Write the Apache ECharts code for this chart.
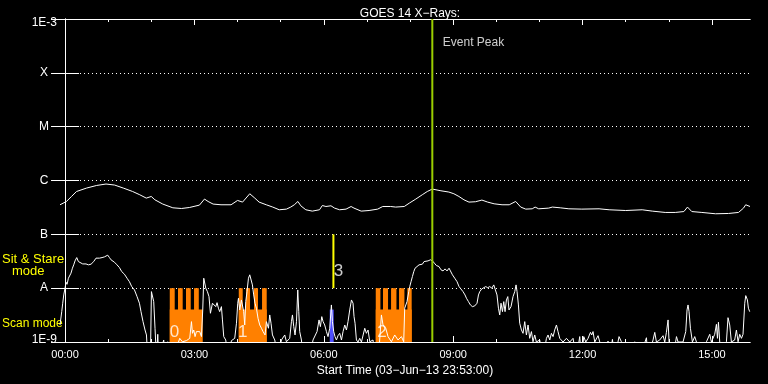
<!DOCTYPE html>
<html><head><meta charset="utf-8">
<script src="https://cdn.jsdelivr.net/npm/echarts@6/dist/echarts.min.js"></script>
<style>html,body{margin:0;padding:0;background:#000;}#c{width:768px;height:384px;}</style>
</head><body><div id="c"></div>
<script>
// time in minutes from 00:00 (axis starts 03-Jun-13 23:53:00)
const xStart = -7, xEnd = 953;
const yMin = 1e-9, yMax = 1e-3;
const majorTicks = [0, 180, 360, 540, 720, 900];
const hourTicks = [0,60,120,180,240,300,360,420,480,540,600,660,720,780,840,900];
const yLevelNames = {'-9':'1E-9','-8':'A','-7':'B','-6':'C','-5':'M','-4':'X','-3':'1E-3'};

// GOES 1-8 A (long channel)
const longChannel = [
[-7,3.54e-7],[2,4.08e-7],[9,5.05e-7],[16,6.25e-7],[18,6.53e-7],[30,7.24e-7],[44,8.09e-7],[57,8.6e-7],[69,8.23e-7],[81,7.24e-7],[94,6.25e-7],[104,5.43e-7],[113,4.71e-7],[120,5.05e-7],[125,4.38e-7],[136,3.65e-7],[150,3.11e-7],[162,3.02e-7],[173,3.15e-7],[187,3.49e-7],[194,4.52e-7],[199,4.08e-7],[206,3.65e-7],[217,3.54e-7],[231,3.54e-7],[240,4.26e-7],[247,3.97e-7],[257,5.67e-7],[264,4.71e-7],[270,3.97e-7],[280,3.54e-7],[289,3.21e-7],[298,2.86e-7],[308,2.94e-7],[314,3.21e-7],[319,3.54e-7],[324,4.08e-7],[328,3.39e-7],[335,2.86e-7],[344,2.70e-7],[354,2.86e-7],[358,3.43e-7],[363,3.29e-7],[370,3.39e-7],[375,3.07e-7],[382,2.86e-7],[391,2.94e-7],[398,3.29e-7],[402,3.07e-7],[412,2.70e-7],[423,2.77e-7],[435,2.94e-7],[442,3.29e-7],[453,3.29e-7],[460,3.21e-7],[472,3.29e-7],[479,3.80e-7],[488,4.52e-7],[497,5.43e-7],[504,6.25e-7],[511,6.93e-7],[523,6.44e-7],[534,6.10e-7],[541,5.67e-7],[548,5.05e-7],[555,4.38e-7],[562,3.97e-7],[571,4.03e-7],[580,4.33e-7],[588,3.97e-7],[597,3.69e-7],[608,3.54e-7],[618,3.54e-7],[627,4.08e-7],[634,3.21e-7],[641,2.94e-7],[650,2.98e-7],[654,3.21e-7],[659,2.98e-7],[673,3.07e-7],[678,3.21e-7],[689,3.11e-7],[701,2.98e-7],[719,2.94e-7],[743,2.98e-7],[757,2.86e-7],[780,2.77e-7],[803,2.86e-7],[817,2.70e-7],[835,2.55e-7],[849,2.55e-7],[861,2.65e-7],[866,3.21e-7],[872,2.65e-7],[886,2.55e-7],[905,2.41e-7],[923,2.44e-7],[937,2.55e-7],[944,3.07e-7],[947,3.54e-7],[953,3.29e-7]
];

// GOES 0.5-4 A (short channel)
const shortChannel = [
[-7,2.07e-9],[-4.6,3.66e-9],[-3.2,5.25e-9],[-1.8,7.48e-9],[0,1.0e-8],[1.4,1.29e-8],[2.8,1.18e-8],[4.7,1.53e-8],[6.5,1.64e-8],[8.3,1.90e-8],[10.3,2.35e-8],[12.1,2.71e-8],[13.9,3.21e-8],[16.3,3.70e-8],[18.6,3.12e-8],[20,2.91e-8],[24.6,2.82e-8],[29.2,2.82e-8],[32.6,2.71e-8],[36.2,2.79e-8],[39.9,3.12e-8],[43.1,3.61e-8],[47.9,3.61e-8],[51.5,3.70e-8],[54.8,3.81e-8],[59.4,4.10e-8],[61.8,3.70e-8],[64,3.36e-8],[68.7,3.04e-8],[72.3,2.71e-8],[75.7,2.41e-8],[78.9,2.03e-8],[82.6,1.82e-8],[86.3,1.53e-8],[89.6,1.32e-8],[92.8,1.07e-8],[96.6,9.27e-9],[100.2,6.97e-9],[103.5,5.25e-9],[105.7,3.66e-9],[108.5,2.39e-9],[111.3,1.67e-9],[113.3,1.35e-9],[115.1,5e-10],[118.8,5e-10],[120.2,8.63e-9],[121.6,9.27e-9],[123.4,5.62e-9],[125.2,1.80e-9],[127.2,5e-10],[129,1.39e-9],[130.4,5e-10],[137.3,1.09e-9],[139.1,5e-10],[142.9,1.01e-9],[150,5e-10],
[159.6,1.17e-9],[163.3,1.01e-9],[168.9,1.06e-9],[173.5,1.17e-9],[175.9,2.39e-9],[177.3,1.45e-9],[179.1,1.67e-9],[180.9,1.26e-9],[182.8,1.56e-9],[185,1.45e-9],[187.4,1.56e-9],[189.8,1.26e-9],[191.6,3.94e-9],[193,1.53e-8],[195.8,1.0e-8],[198.1,8.63e-9],[200.3,6.97e-9],[202.3,3.42e-9],[205.1,5.25e-9],[206.9,5.62e-9],[209.7,4.54e-9],[211.5,5.38e-9],[213.4,4.24e-9],[215.2,3.66e-9],[217.6,4.54e-9],[219,2.57e-9],[220.8,1.26e-9],[223.6,1.09e-9],[226.8,5e-10],[231.5,1.06e-9],[236.1,1.17e-9],[238.5,2.23e-9],[240.3,5.25e-9],[241.3,6.50e-9],[243.1,3.94e-9],[245.4,6.04e-9],[248.6,3.66e-9],[250,2.07e-9],[251.4,5.62e-9],[253.2,8.63e-9],[255.2,1.53e-8],[257,1.77e-8],[258.8,1.64e-8],[260.7,1.15e-8],[262.5,7.48e-9],[264.3,5.25e-9],[266.3,4.24e-9],[268.5,2.76e-9],[270.9,2.07e-9],[273.3,1.80e-9],[275.5,1.56e-9],[278.3,1.35e-9],[280.2,2.39e-9],[281.6,2.57e-9],[283,1.80e-9],[284.8,3.18e-9],[286.6,2.23e-9],[288.6,1.35e-9],[291.8,1.09e-9],[296.3,5e-10],[301.1,1.09e-9],[305.7,1.35e-9],[308,1.01e-9],[312.6,1.17e-9],[315,2.39e-9],[316.4,3.18e-9],[318.2,1.93e-9],[320,1.35e-9],[322,2.39e-9],[323.8,9.27e-9],[325.2,3.66e-9],[326.5,1.56e-9],[328.9,1.09e-9],[331.1,5e-10],[340.5,5e-10],[345,1.09e-9],
[350.6,1.56e-9],[353.4,2.57e-9],[355.3,1.93e-9],[357.2,2.96e-9],[359,2.39e-9],[361.3,2.07e-9],[363.7,1.56e-9],[365.9,1.26e-9],[368.3,1.80e-9],[370.6,4.88e-9],[372,2.39e-9],[373.8,1.56e-9],[375.6,1.26e-9],[377.6,1.09e-9],[379.8,1.31e-9],[382.2,1.45e-9],[384.6,1.09e-9],[386.8,1.56e-9],[389.2,2.07e-9],[391.5,1.67e-9],[393.7,2.39e-9],[396.1,3.94e-9],[398.5,6.04e-9],[400.7,5.25e-9],[402.1,2.96e-9],[403.5,2.23e-9],[405.4,1.09e-9],[407.7,1.0e-9],[410,1.17e-9],[412.4,1.0e-9],[417,1.80e-9],[419.3,1.45e-9],[421.6,1.67e-9],[424,1.01e-9],[428.5,1.09e-9],[430.9,5e-10],[436,5e-10],[440.2,3.18e-9],[442.4,2.07e-9],[446.2,1.80e-9],[449.4,1.26e-9],[454.1,1.01e-9],[458.7,1.35e-9],[463.3,1.09e-9],[468,1.26e-9],[471.2,1.01e-9],[472.6,4.24e-9],[475.8,5.62e-9],[478.2,8.63e-9],[479.6,1.07e-8],[481.4,1.32e-8],[483.3,1.64e-8],[485.2,2.03e-8],[487,2.35e-8],[489.7,2.52e-8],[492.5,2.71e-8],[494.5,2.91e-8],[497.2,2.79e-8],[499.5,3.12e-8],[501.8,3.04e-8],[505,3.21e-8],[508.4,3.36e-8],[511.2,3.21e-8],[513.9,2.91e-8],[516.7,2.63e-8],[520.3,2.52e-8],[523.1,2.19e-8],[525.9,2.09e-8],[528.7,2.28e-8],[531.5,2.09e-8],[534.3,2.35e-8],[536.2,2.09e-8],[539,1.77e-8],[542.2,1.53e-8],[545.4,1.32e-8],[548.2,1.07e-8],[550.9,1.02e-8],[553.7,8.63e-9],[556.5,7.48e-9],[558.5,6.50e-9],[561.3,5.62e-9],[564,4.88e-9],[566.8,4.54e-9],[570,4.68e-9],[573.2,5.25e-9],[575.2,7.48e-9],[577,8.63e-9],[579.8,9.68e-9],[582.5,9.98e-9],[585.3,1.07e-8],[588.1,1.02e-8],[590.9,1.07e-8],[593.7,1.0e-8],[596.5,1.15e-8],[599.2,1.07e-8],[601,7.48e-9],[603,4.24e-9],[604.8,3.18e-9],[606.6,5.25e-9],[608.6,3.66e-9],[610.4,5.62e-9],[612.2,3.66e-9],[614.1,6.04e-9],[616,6.97e-9],[617.7,3.94e-9],[620.5,4.54e-9],[623.3,6.97e-9],[625.7,8.63e-9],[627.5,1.15e-8],[628.9,8.63e-9],[630.8,4.88e-9],[632.6,2.23e-9],[635,1.67e-9],[637.2,1.45e-9],[639.6,2.39e-9],[641.9,1.35e-9],[644.2,2.07e-9],[646.5,1.17e-9],[648.9,1.56e-9],[651.1,1.01e-9],[653.5,1.35e-9],[655.8,1.0e-9],[660.4,1.09e-9],[665,5e-10],
[669.8,1.17e-9],[672,1.35e-9],[674.4,1.09e-9],[676.7,1.45e-9],[679,1.26e-9],[681.3,1.67e-9],[683.7,2.07e-9],[685.9,1.56e-9],[688.3,1.17e-9],[692.9,1.0e-9],[697.6,1.17e-9],[702.2,1.0e-9],[706.8,1.17e-9],[711.5,5e-10],[716.1,1.26e-9],[718.5,5e-10],[721.7,1.26e-9],[724.5,1.0e-9],[727.7,1.17e-9],[731,1.51e-9],[732.8,1.35e-9],[734.6,1.56e-9],[737,1.0e-9],[741.6,1.31e-9],[744,1.0e-9],[748.5,5e-10],[755.5,1.04e-9],[757.9,5e-10],[761.6,1.12e-9],[764.8,5e-10],[770.8,1.26e-9],[774.1,1.01e-9],[776.3,1.09e-9],[781.1,5e-10],[792.6,1.01e-9],[799.6,5e-10],[808.9,1.20e-9],[811.1,5e-10],[818.1,1.09e-9],[820.5,1.51e-9],[822.8,1.0e-9],[827.4,1.09e-9],[832,1.31e-9],[834.4,1.0e-9],[836.7,1.51e-9],[839,2.57e-9],[840.4,1.0e-9],[845.9,5e-10],[850.7,1.26e-9],[852.9,1.0e-9],[859.8,1.0e-9],[863.6,1.56e-9],[865.4,3.94e-9],[866.8,4.88e-9],[868.2,3.66e-9],[870.1,1.80e-9],[872.9,1.0e-9],[876.1,1.26e-9],[878.5,1.0e-9],[885.4,5e-10],[892.4,1.01e-9],[897,1.39e-9],[899.3,1.0e-9],[903.9,1.39e-9],[906.3,2.13e-9],[907.7,1.17e-9],[909.1,2.33e-9],[910.9,1.0e-9],[915.5,5e-10],[920.2,1.01e-9],[922.4,2.83e-9],[924.8,2.07e-9],[927.1,1.0e-9],[931.7,1.09e-9],[934.1,1.67e-9],[936.4,1.01e-9],[938.7,1.39e-9],[941.1,1.17e-9],[943.3,1.39e-9],[945.7,5.25e-9],[947.1,7.27e-9],[948,7.72e-9],[949.4,6.04e-9],[950.8,4.24e-9],[952.6,3.66e-9]
];

// scan-mode periods: [start, end, top flux]
const scanBlocks = [
[145.7,191.6,4e-9],[145.7,152.6,1e-8],[157.2,163.7,1e-8],[168.3,174.9,1e-8],[179.5,186.1,1e-8],
[241.7,280.6,4e-9],[241.7,247.2,1e-8],[251.8,257.4,1e-8],[262.9,268.5,1e-8],[274.1,280.6,1e-8],
[432.3,482.3,4e-9],[432.3,438.8,1e-8],[442.4,449.4,1e-8],[453.6,461.1,1e-8],[464.7,472.2,1e-8],[476.3,482.3,1e-8]
];
// sit & stare mark
const stareBlocks = [[368.3,373.8,4e-9]];
const pointingLine = [[373.4,1e-7],[373.4,1e-8]];
const eventPeakTime = 511;
const eventPeakLabel = [[511,3.66e-4]];
const modeLabels = [
{name:'0', value:[152.2,1.5e-9]},
{name:'1', value:[247.2,1.5e-9]},
{name:'2', value:[440.9,1.5e-9]},
{name:'3', value:[380.5,2.03e-8]}
];

const FONT = 'Liberation Sans';
const chart = echarts.init(document.getElementById('c'));
function rect(color){
  return function(params, api){
    const p0 = api.coord([api.value(0), api.value(2)]);
    const p1 = api.coord([api.value(1), yMin]);
    return {type:'rect', shape:{x:p0[0], y:p0[1], width:p1[0]-p0[0], height:p1[1]-p0[1]}, style:{fill:color}};
  };
}
const white = '#ffffff';
const xBase = {type:'value', min:xStart, max:xEnd, axisLine:{show:true, lineStyle:{color:white, width:1}}, splitLine:{show:false}};
const yBase = {type:'log', logBase:10, min:yMin, max:yMax, axisLine:{show:true, lineStyle:{color:white}}, splitLine:{show:false}, axisLabel:{show:false}, axisTick:{show:false}};
chart.setOption({
  animation:false,
  backgroundColor:'#000000',
  title:{text:'GOES 14 X\u2212Rays:', left:405, top:3, textAlign:'center', textStyle:{color:white, fontSize:12, fontWeight:'normal', fontFamily:FONT}},
  grid:[{left:60, right:18, top:19, bottom:42}, {left:60, right:18, top:19, bottom:42}],
  xAxis:[
    Object.assign({}, xBase, {gridIndex:0, position:'bottom',
      name:'Start Time (03\u2212Jun\u221213 23:53:00)', nameLocation:'middle', nameGap:19,
      nameTextStyle:{color:white, fontSize:12, fontFamily:FONT},
      axisTick:{show:true, inside:true, length:6, customValues:majorTicks, lineStyle:{color:white}},
      axisLabel:{show:true, customValues:majorTicks, margin:7, color:white, fontSize:11, fontFamily:FONT,
        formatter:v=>String(Math.round(v/60)).padStart(2,'0')+':00'}}),
    Object.assign({}, xBase, {gridIndex:0, position:'top',
      axisTick:{show:true, inside:true, length:6, customValues:majorTicks, lineStyle:{color:white}},
      axisLabel:{show:false}}),
    Object.assign({}, xBase, {gridIndex:1, position:'bottom',
      axisTick:{show:true, inside:true, length:3, customValues:hourTicks, lineStyle:{color:white}},
      axisLabel:{show:false}}),
    Object.assign({}, xBase, {gridIndex:1, position:'top',
      axisTick:{show:true, inside:true, length:3, customValues:hourTicks, lineStyle:{color:white}},
      axisLabel:{show:false}})
  ],
  yAxis:[
    Object.assign({}, yBase, {gridIndex:0, position:'left',
      axisTick:{show:true, inside:true, length:14, lineStyle:{color:white}},
      splitLine:{show:true, lineStyle:{color:white, width:1, type:[1,3]}},
      axisLabel:{show:true, margin:3, color:white, fontSize:12, fontFamily:FONT,
        formatter:v=>{const e=Math.round(Math.log10(v)); const t=yLevelNames[e];
          if(e===-3) return '{top|'+t+'}'; if(e===-9) return '{bot|'+t+'}'; return '{c|'+t+'}';},
        rich:{
          c:{width:26, align:'center', color:white, fontSize:12, fontFamily:FONT},
          top:{padding:[7,0,0,0], color:white, fontSize:12, fontFamily:FONT},
          bot:{padding:[0,0,5,0], color:white, fontSize:12, fontFamily:FONT}
        }}}),
    Object.assign({}, yBase, {gridIndex:0, position:'right',
      axisTick:{show:true, inside:true, length:14, lineStyle:{color:white}}}),
    Object.assign({}, yBase, {gridIndex:1, position:'left', axisLine:{show:false}})
  ],
  graphic:[
    {type:'text', left:2, top:253, style:{text:'Sit & Stare', fill:'#ffff00', font:'13px "Liberation Sans"'}},
    {type:'text', left:12, top:265, style:{text:'mode', fill:'#ffff00', font:'13px "Liberation Sans"'}},
    {type:'text', left:2, top:318, style:{text:'Scan mode', fill:'#ffff00', font:'12px "Liberation Sans"'}}
  ],
  series:[
    {type:'custom', name:'scan', xAxisIndex:0, yAxisIndex:0, renderItem:rect('#ff8000'), data:scanBlocks, encode:{x:[0,1], y:2}, clip:true, silent:true},
    {type:'custom', name:'stare', xAxisIndex:0, yAxisIndex:0, renderItem:rect('#5050ff'), data:stareBlocks, encode:{x:[0,1], y:2}, clip:true, silent:true},
    {type:'line', name:'short', data:shortChannel, showSymbol:false, symbol:'none', clip:true, lineStyle:{color:white, width:1}},
    {type:'line', name:'long', data:longChannel, showSymbol:false, symbol:'none', clip:true, lineStyle:{color:white, width:1}},
    {type:'line', name:'pointing', data:pointingLine, showSymbol:false, symbol:'none', lineStyle:{color:'#ffff00', width:2}},
    {type:'line', name:'peak', data:[[eventPeakTime,yMax],[eventPeakTime,yMin]], showSymbol:false, symbol:'none', lineStyle:{color:'#9acd00', width:2}},
    {type:'scatter', name:'peakLabel', data:eventPeakLabel, symbolSize:1, itemStyle:{color:'transparent'},
      label:{show:true, position:'right', distance:10, formatter:'Event Peak', color:white, fontSize:12, fontFamily:FONT}},
    {type:'scatter', name:'modeLabels', data:modeLabels, symbolSize:1, itemStyle:{color:'transparent'},
      label:{show:true, position:'inside', formatter:'{b}', color:white, fontSize:17, fontFamily:FONT}}
  ]
});
</script></body></html>
